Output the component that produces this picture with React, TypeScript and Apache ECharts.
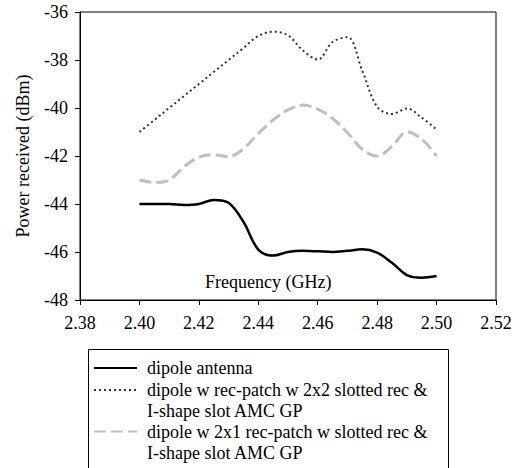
import React, { useEffect, useRef } from "react";
import * as echarts from "echarts";

const frequencies = [
  2.4, 2.405, 2.41, 2.415, 2.42, 2.425, 2.43, 2.435, 2.44, 2.445, 2.45,
  2.455, 2.46, 2.465, 2.47, 2.475, 2.48, 2.485, 2.49, 2.495, 2.5,
];

const dipoleAntenna = [
  -44.0, -44.0, -44.0, -44.04, -44.0, -43.83, -43.95, -44.74, -45.9, -46.15, -46.0,
  -45.95, -45.97, -46.0, -45.95, -45.89, -46.03, -46.45, -46.96, -47.07, -47.0,
];

const dipole2x2 = [
  -41.0, -40.5, -40.0, -39.5, -39.0, -38.5, -38.0, -37.5, -37.0, -36.82, -36.97,
  -37.6, -37.98, -37.25, -37.05, -38.45, -39.95, -40.25, -40.02, -40.4, -40.9,
];

const dipole2x1 = [
  -43.0, -43.1, -43.0, -42.45, -42.05, -41.95, -42.03, -41.7, -41.06, -40.5, -40.08,
  -39.88, -40.05, -40.43, -41.03, -41.72, -42.0, -41.6, -41.0, -41.3, -42.0,
];

const seriesNames = [
  "dipole antenna",
  "dipole w rec-patch w 2x2 slotted rec & I-shape slot AMC GP",
  "dipole w 2x1 rec-patch w slotted rec & I-shape slot AMC GP",
];

const legendLabels = [
  "dipole antenna",
  "\ndipole w rec-patch w 2x2 slotted rec &\nI-shape slot AMC GP",
  "\ndipole w 2x1 rec-patch w slotted rec &\nI-shape slot AMC GP",
];

const xTitle = "Frequency (GHz)";
const yTitle = "Power received (dBm)";

const FONT = "Liberation Serif";

export default function App() {
  const ref = useRef<HTMLDivElement>(null);

  useEffect(() => {
    let chart: echarts.ECharts | null = null;
    let disposed = false;

    const build = () => {
      if (disposed || !ref.current) return;
      chart = echarts.init(ref.current, undefined, { renderer: "svg" });

      const pair = (vals: number[]) => frequencies.map((f, i) => [f, vals[i]]);

      const legendBase = (name: string, label: string, top: number) => ({
        show: true,
        orient: "vertical",
        left: 93,
        top,
        padding: 0,
        itemWidth: 43,
        itemHeight: 14,
        selectedMode: false,
        data: [name],
        formatter: () => label,
        itemStyle: { opacity: 0 },
        textStyle: {
          fontFamily: FONT,
          fontSize: 18,
          lineHeight: 21,
          color: "#000",
          padding: [0, 0, 0, 5],
        },
      });

      chart.setOption({
        animation: false,
        textStyle: { fontFamily: FONT, fontSize: 18 },
        grid: {
          left: 80,
          right: 24,
          top: 12,
          bottom: 168,
          show: true,
          borderColor: "#000",
          borderWidth: 1,
          backgroundColor: "transparent",
        },
        xAxis: {
          type: "value",
          min: 2.38,
          max: 2.52,
          interval: 0.02,
          axisLine: { show: true, onZero: false, lineStyle: { color: "#000", width: 1 } },
          axisTick: { show: true, inside: false, length: 5, lineStyle: { color: "#000" } },
          axisLabel: {
            margin: 14,
            color: "#000",
            fontFamily: FONT,
            fontSize: 18,
            formatter: (v: number) => v.toFixed(2),
          },
          splitLine: { show: false },
        },
        yAxis: {
          type: "value",
          min: -48,
          max: -36,
          interval: 2,
          name: yTitle,
          nameLocation: "middle",
          nameGap: 48,
          nameTextStyle: { fontFamily: FONT, fontSize: 18, color: "#000" },
          axisLine: { show: true, onZero: false, lineStyle: { color: "#000", width: 1 } },
          axisTick: { show: true, inside: false, length: 5, lineStyle: { color: "#000" } },
          axisLabel: { margin: 12, color: "#000", fontFamily: FONT, fontSize: 18 },
          splitLine: { show: false },
        },
        legend: [
          legendBase(seriesNames[0], legendLabels[0], 357.5),
          legendBase(seriesNames[1], legendLabels[1], 358.5),
          legendBase(seriesNames[2], legendLabels[2], 400),
        ],
        graphic: [
          {
            type: "rect",
            left: 86,
            top: 347,
            shape: { width: 360, height: 125 },
            style: { fill: "none", stroke: "#000", lineWidth: 1 },
            silent: true,
          },
          {
            type: "text",
            left: 205,
            top: 273,
            style: { text: xTitle, fontFamily: FONT, fontSize: 18, fill: "#000" },
          },
        ],
        series: [
          {
            name: seriesNames[0],
            type: "line",
            data: pair(dipoleAntenna),
            smooth: 0.35,
            symbol: "none",
            lineStyle: { color: "#000", width: 2.5, type: "solid" },
            itemStyle: { color: "#000", opacity: 0 },
          },
          {
            name: seriesNames[1],
            type: "line",
            data: pair(dipole2x2),
            smooth: 0.35,
            symbol: "none",
            lineStyle: { color: "#333", width: 2, type: [2, 3] },
            itemStyle: { color: "#333", opacity: 0 },
          },
          {
            name: seriesNames[2],
            type: "line",
            data: pair(dipole2x1),
            smooth: 0.35,
            symbol: "none",
            lineStyle: { color: "#bfbfbf", width: 3, type: [12, 5] },
            itemStyle: { color: "#bfbfbf", opacity: 0 },
          },
        ],
      });
    };

    const fontsApi = (document as any).fonts;
    if (fontsApi && fontsApi.load) {
      fontsApi
        .load("18px 'Liberation Serif'")
        .then(build, build);
    } else {
      build();
    }

    return () => {
      disposed = true;
      if (chart) chart.dispose();
    };
  }, []);

  return (
    <div
      ref={ref}
      style={{ width: 520, height: 468, position: "absolute", left: 0, top: 0, background: "#fff" }}
    />
  );
}
